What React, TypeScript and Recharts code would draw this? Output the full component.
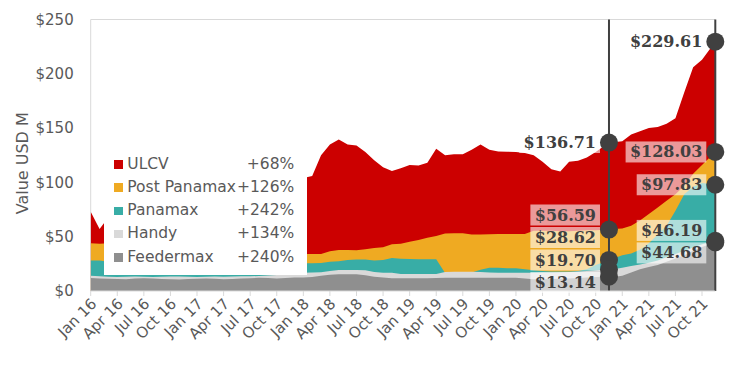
import { AreaChart, Area, XAxis, YAxis, CartesianGrid, ReferenceLine, ReferenceDot } from 'recharts'

const monthNames = ['Jan', 'Feb', 'Mar', 'Apr', 'May', 'Jun', 'Jul', 'Aug', 'Sep', 'Oct', 'Nov', 'Dec']
const months = Array.from({ length: 71 }, (_, i) => `${monthNames[i % 12]} ${16 + Math.floor(i / 12)}`)
// the two readings compared year on year are mid-month
const midMonth = ['Nov 20', 'Nov 21']

// values in USD M, Jan 16 .. Nov 21
const ulcv = [
  73, 57,
  68, 70, 72, 74, 75, 77, 78, 80, 82, 83, 85, 86, 88, 89, 91, 92, 94, 95, 97, 98, 100, 102,
  104, 106, 125, 135, 139.5, 135, 134, 128, 120.5, 114, 110.5, 113, 116, 115.5, 118, 131, 125, 126, 126, 130, 135, 130,
  128.5, 128.3, 128, 127, 125, 119, 112, 110, 119, 120, 123, 128,
  136.71,
  137, 138, 144, 147, 150, 151, 154, 159, 183, 206, 213,
  229.61,
]
const postPanamax = [
  44, 43.5,
  44, 43, 42, 42, 41, 40, 40, 39, 38, 38, 37, 37, 36, 36, 35, 35, 35, 34, 34, 34, 34, 34,
  34, 34, 34, 36.5, 37.8, 37.8, 37.5, 38.5, 39.5, 40.2, 43, 43.5, 45.4, 47, 49, 50.6, 53, 53.1, 53.1, 52, 52, 52.2,
  52.5, 52.5, 52.5, 52.5, 55.5, 55.5, 55.5, 55, 55, 55.5, 56, 56,
  56.59,
  57, 57.5, 60, 65, 71, 77, 83, 89, 97, 108, 116,
  128.03,
]
const panamax = [
  28, 28,
  27, 27, 26, 26, 26, 27, 27, 26, 26, 25, 25, 26, 26, 26, 25, 25, 25, 26, 25, 25, 25, 25,
  25.5, 25.5, 25.8, 27, 27.3, 28.5, 29, 29, 28, 28.5, 30.5, 29.7, 29.5, 29.3, 29.2, 29.2, 16.5, 16, 16, 17, 19.5, 21.5,
  21.5, 21, 21, 20, 19, 18.5, 18, 18, 18, 18.5, 20, 24,
  28.62,
  30, 33, 34.5, 38, 44, 52, 60, 74, 89, 96, 99.5,
  97.83,
]
const handy = [
  14, 13.5,
  13.2, 13.0, 13.2, 13.4, 13.2, 13.0, 13.2, 13.4, 13.3, 13.2, 13.0, 13.1, 13.3, 13.2, 13.4, 13.5, 13.6, 13.8, 14.2, 14.8, 15.5, 16.2,
  16.9, 17, 17.2, 18.5, 19.3, 19.3, 19.3, 19, 17.5, 16.9, 16.9, 15.7, 15.7, 15.7, 15.7, 15.7, 17.5, 17.8, 17.8, 17.8, 17.5, 17,
  16.9, 16.9, 16.9, 16.9, 16.9, 17, 17, 17.2, 17.5, 18, 18.5, 19,
  19.7,
  20, 21.5, 23, 24.5, 26, 28, 31, 34, 37, 40, 43,
  46.19,
]
const feedermax = [
  12, 11.5,
  11.2, 11.0, 10.8, 11.5, 11.8, 11.4, 11.0, 10.8, 10.6, 11.0, 11.3, 11.6, 11.2, 10.9, 11.0, 11.4, 11.8, 12.2, 12.0, 11.6, 11.9, 12.4,
  12.5, 13, 14, 15, 15.4, 15.4, 15.4, 14.5, 13.2, 12.5, 11.7, 11.7, 11.7, 11.7, 11.7, 12, 12.2, 12.2, 12.2, 12.2, 12.2, 12.2,
  12.2, 12.2, 12.2, 11.5, 10.8, 10.8, 11, 11.2, 11.5, 12, 12.5, 13,
  13.14,
  13, 14, 17, 20, 22, 24, 27, 30, 33, 37, 40.5,
  44.68,
]

const series = [
  { key: 'ulcv', name: 'ULCV', color: '#CC0000', values: ulcv },
  { key: 'postPanamax', name: 'Post Panamax', color: '#EFAA22', values: postPanamax },
  { key: 'panamax', name: 'Panamax', color: '#38ADA6', values: panamax },
  { key: 'handy', name: 'Handy', color: '#D9D9D9', values: handy },
  { key: 'feedermax', name: 'Feedermax', color: '#8F8F8F', values: feedermax },
]

const yTicks = [0, 50, 100, 150, 200, 250]
const xTicks = months.map((_, i) => i).filter((i) => i % 3 === 0)

const data = months.map((m, i) => {
  const row: Record<string, number> = { t: midMonth.includes(m) ? i + 0.5 : i }
  series.forEach((s) => (row[s.key] = s.values[i]))
  return row
})

const W = 742
const H = 366
const margin = { top: 19.5, right: 26.7, left: 0, bottom: 0 }
const yAxisWidth = 90.7
const xAxisHeight = 75
const pxPerUnit = (H - margin.top - xAxisHeight) / yTicks[yTicks.length - 1]

const fmt = (v: number) => `$${v.toFixed(2)}`

// spread labels apart (in data units) so the tags don't overlap
function dodge(values: number[], gapPx: number, minPx: number) {
  const gap = gapPx / pxPerUnit
  const min = minPx / pxPerUnit
  let clusters = values.map((v) => ({ members: [v], center: v }))
  let merged = true
  while (merged) {
    merged = false
    for (let i = 0; i < clusters.length - 1; i++) {
      const a = clusters[i]
      const b = clusters[i + 1]
      const aLow = a.center - ((a.members.length - 1) * gap) / 2
      const bHigh = b.center + ((b.members.length - 1) * gap) / 2
      if (aLow - bHigh < gap) {
        const members = [...a.members, ...b.members]
        const center = members.reduce((s, v) => s + v, 0) / members.length
        clusters.splice(i, 2, { members, center })
        merged = true
        break
      }
    }
  }
  const out: number[] = []
  clusters.forEach((c) => {
    let top = c.center + ((c.members.length - 1) * gap) / 2
    const low = top - (c.members.length - 1) * gap
    if (low < min) top += min - low
    c.members.forEach((_, k) => out.push(top - k * gap))
  })
  return out
}

const compare = midMonth.map((m) => {
  const i = months.indexOf(m)
  const values = series.map((s) => s.values[i])
  return { t: i + 0.5, values, labelPos: dodge(values, 22.5, 8.5) }
})

const pct = series.map((s, k) => {
  const v = Math.round((compare[1].values[k] / compare[0].values[k] - 1) * 100)
  return `+${v}%`
})

const charW = (c: string) => (c === '.' ? 6.1 : 11.1)

const Tag = (props: any) => {
  const { cx, cy, text } = props
  const w = text.split('').reduce((s: number, c: string) => s + charW(c), 0)
  const right = cx - 13
  return (
    <g>
      <rect x={right - w - 4} y={cy - 10.5} width={w + 8} height={21} fill="#fff" fillOpacity={0.6} />
      <text
        x={right}
        y={cy}
        textAnchor="end"
        dominantBaseline="central"
        fontFamily="DejaVu Serif"
        fontWeight="bold"
        fontSize={16}
        fill="#404040"
      >
        {text}
      </text>
    </g>
  )
}

const MonthTick = (props: any) => {
  const { x, y, payload } = props
  const ax = x + 3
  const ay = y + 1
  return (
    <text
      x={ax}
      y={ay}
      dy="0.35em"
      transform={`rotate(-45 ${ax} ${ay})`}
      textAnchor="end"
      fontFamily="DejaVu Sans"
      fontSize={15}
      fill="#595959"
    >
      {months[payload.value]}
    </text>
  )
}

const YTitle = (props: any) => {
  const { viewBox } = props
  const x = 22
  const y = viewBox.y + viewBox.height / 2 + 8
  return (
    <text
      x={x}
      y={y}
      transform={`rotate(-90 ${x} ${y})`}
      textAnchor="middle"
      dominantBaseline="central"
      fontFamily="DejaVu Sans"
      fontSize={16}
      fill="#595959"
    >
      Value USD M
    </text>
  )
}

function LegendBox() {
  return (
    <div
      style={{
        position: 'absolute',
        left: 104,
        top: 148,
        width: 203,
        height: 127,
        background: '#fff',
        fontFamily: 'DejaVu Sans',
        fontSize: 15.5,
        color: '#595959',
        paddingTop: 4.5,
        boxSizing: 'border-box',
      }}
    >
      {series.map((s, k) => (
        <div key={s.key} style={{ position: 'relative', height: 23.3, lineHeight: '23.3px' }}>
          <span
            style={{
              position: 'absolute',
              left: 10.3,
              top: 7.5,
              width: 8.5,
              height: 8.5,
              background: s.color,
            }}
          />
          <span style={{ position: 'absolute', left: 23.3 }}>{s.name}</span>
          <span style={{ position: 'absolute', right: 12.7 }}>{pct[k]}</span>
        </div>
      ))}
    </div>
  )
}

export default function App() {
  return (
    <div style={{ position: 'absolute', left: 0, top: 0, width: W, height: H, background: '#fff' }}>
      <AreaChart width={W} height={H} data={data} margin={margin}>
        <CartesianGrid
          stroke="#D9D9D9"
          horizontalCoordinatesGenerator={({ offset }: any) => [offset.top]}
          verticalCoordinatesGenerator={({ offset }: any) => [offset.left]}
        />
        <XAxis
          type="number"
          dataKey="t"
          domain={[0, 70.5]}
          ticks={xTicks}
          interval={0}
          height={xAxisHeight}
          axisLine={{ stroke: '#D9D9D9' }}
          tickLine={{ stroke: '#D9D9D9' }}
          tickSize={5}
          tickMargin={4}
          tick={<MonthTick />}
          allowDataOverflow
        />
        <YAxis
          type="number"
          domain={[0, 250]}
          ticks={yTicks}
          width={yAxisWidth}
          axisLine={false}
          tickLine={false}
          tickSize={8}
          tickMargin={9}
          tick={{ fill: '#595959', fontSize: 15, fontFamily: 'DejaVu Sans' }}
          tickFormatter={(v) => `$${v}`}
          label={{ content: <YTitle /> }}
        />
        {series.map((s) => (
          <Area
            key={s.key}
            type="linear"
            dataKey={s.key}
            name={s.name}
            stroke="none"
            fill={s.color}
            fillOpacity={1}
            isAnimationActive={false}
            dot={false}
            activeDot={false}
          />
        ))}
        {compare.map((c) => (
          <ReferenceLine key={`l${c.t}`} x={c.t} stroke="#404040" strokeWidth={2} />
        ))}
        {compare.map((c) =>
          c.values.map((v, k) => (
            <ReferenceDot
              key={`tag${c.t}-${k}`}
              x={c.t}
              y={c.labelPos[k]}
              r={0}
              shape={(p: any) => <Tag {...p} text={fmt(v)} />}
            />
          ))
        )}
        {compare.map((c) =>
          c.values.map((v, k) => (
            <ReferenceDot key={`d${c.t}-${k}`} x={c.t} y={v} r={9} fill="#404040" stroke="none" />
          ))
        )}
      </AreaChart>
      <LegendBox />
    </div>
  )
}
